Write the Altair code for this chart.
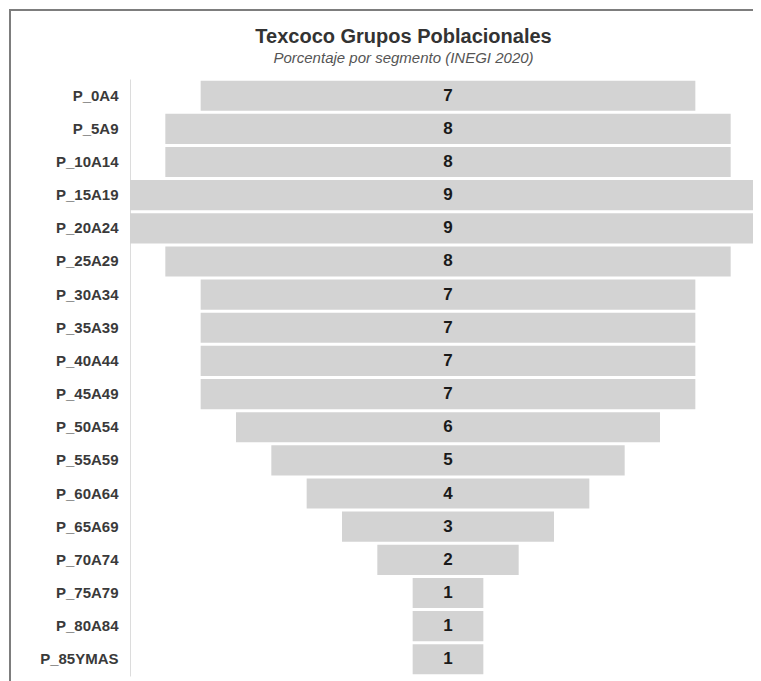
import altair as alt
import pandas as pd

grupos = ["P_0A4", "P_5A9", "P_10A14", "P_15A19", "P_20A24", "P_25A29", "P_30A34",
          "P_35A39", "P_40A44", "P_45A49", "P_50A54", "P_55A59", "P_60A64", "P_65A69",
          "P_70A74", "P_75A79", "P_80A84", "P_85YMAS"]
porcentajes = [7, 8, 8, 9, 9, 8, 7, 7, 7, 7, 6, 5, 4, 3, 2, 1, 1, 1]

titulo = "Texcoco Grupos Poblacionales"
subtitulo = "Porcentaje por segmento (INEGI 2020)"

NARROW = "Liberation Sans Narrow, Arial Narrow, Liberation Sans, sans-serif"
SANS = "Liberation Sans, Arial, sans-serif"

df = pd.DataFrame({"grupo": grupos, "pct": porcentajes})

base = alt.Chart(df).transform_calculate(
    x1="-datum.pct/2", x2="datum.pct/2", cero="0"
)

y = alt.Y(
    "grupo:N",
    sort=grupos,
    scale=alt.Scale(paddingInner=0.09, paddingOuter=0.05),
    axis=alt.Axis(
        title=None, ticks=False, domainColor="#dcdcdc", domainWidth=1,
        labelFont=NARROW, labelFontWeight="bold", labelFontSize=15,
        labelColor="#3a3a3a", labelPadding=12,
    ),
)

xscale = alt.Scale(domain=[-4.5, 4.316], nice=False, zero=False)

bars = base.mark_bar(color="#d3d3d3", clip=True).encode(
    x=alt.X("x1:Q", scale=xscale, axis=None),
    x2="x2:Q",
    y=y,
)

labels = base.mark_text(
    font=NARROW, fontWeight="bold", fontSize=17, color="#1a1a1a"
).encode(
    x=alt.X("cero:Q", scale=xscale, axis=None),
    y=y,
    text="pct:Q",
)

marco = alt.Data(values=[{"k": 1}])
left_line = alt.Chart(marco).mark_rule(color="#7d7d7d", strokeWidth=2).encode(
    x=alt.value(-120), y=alt.value(-69), y2=alt.value(610)
)
top_line = alt.Chart(marco).mark_rule(color="#7d7d7d", strokeWidth=2).encode(
    x=alt.value(-121), x2=alt.value(640), y=alt.value(-69)
)

chart = alt.layer(bars, labels, left_line, top_line).properties(
    width=623,
    height=597,
    autosize=alt.AutoSizeParams(type="none"),
    padding={"left": 122, "top": 71, "right": 0, "bottom": 5},
    title=alt.TitleParams(
        titulo,
        subtitle=subtitulo,
        font=NARROW, fontSize=20, fontWeight="bold", color="#333333",
        subtitleFont=SANS, subtitleFontStyle="italic", subtitleFontSize=15,
        subtitleColor="#555555", subtitlePadding=4,
        anchor="middle", dx=-38, dy=69, offset=12,
    ),
).configure_view(stroke=None)

chart.save("out.html", embed_options={"renderer": "svg", "actions": False})
